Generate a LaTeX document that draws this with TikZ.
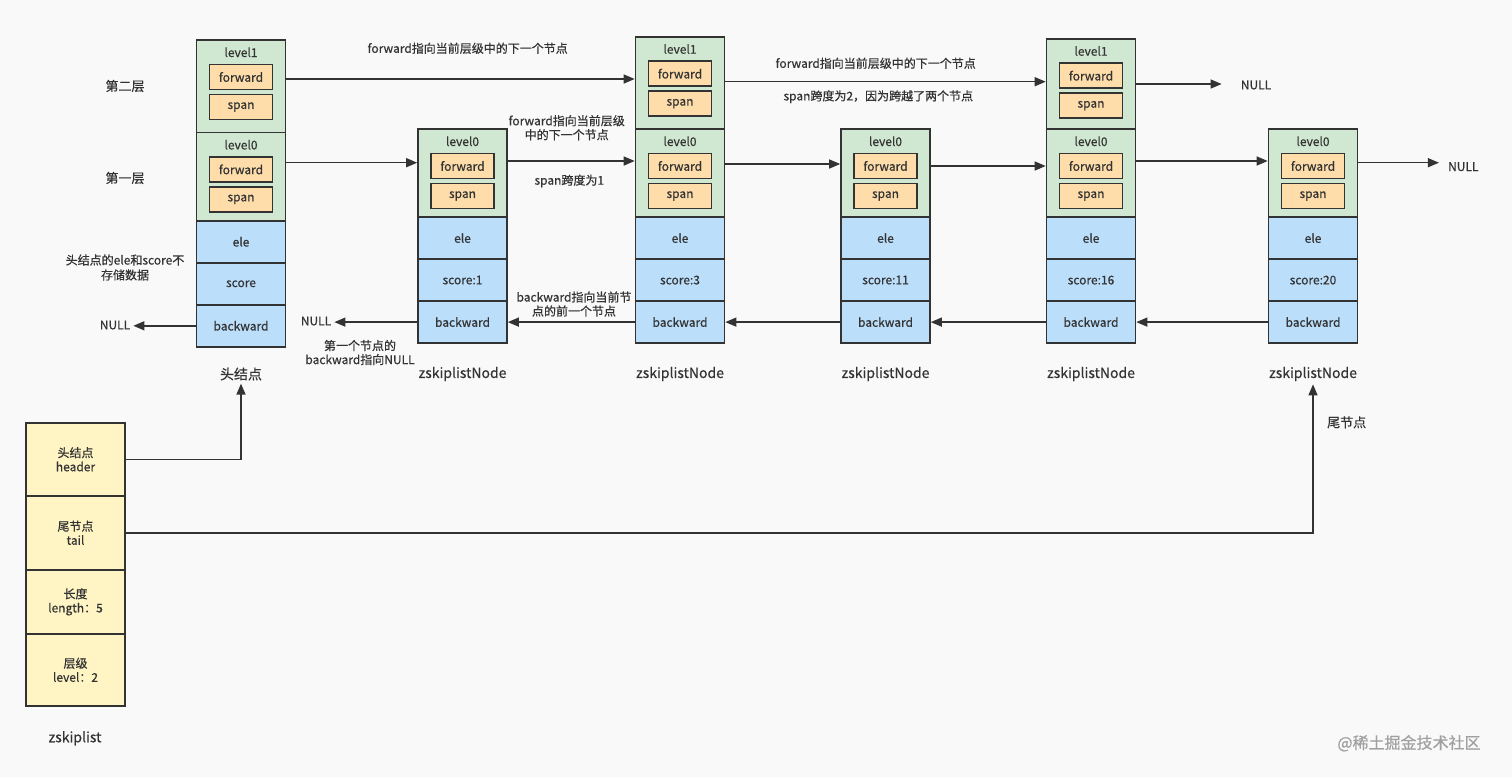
\documentclass[tikz,border=0pt]{standalone}
\usepackage{fontspec}
\setmainfont{Noto Sans CJK SC}[FakeBold=0.5]
\usetikzlibrary{arrows.meta,calc}
\definecolor{linec}{HTML}{333333}
\definecolor{bgc}{HTML}{F9F9F9}
\definecolor{greenc}{HTML}{D0E8D1}
\definecolor{orangec}{HTML}{FEDDAA}
\definecolor{bluec}{HTML}{BBDEFB}
\definecolor{yellowc}{HTML}{FFF5C4}
\definecolor{wmc}{HTML}{A0A0A0}
\newcommand\mklevel[5]{%
  \node[lvl, minimum height=#4pt] (#1) at (#2,#3) {};
  \node[txt] (#1t) at (#2,#3+13) {#5};
  \node[fld] (#1f) at (#2,#3+37.7) {forward};
  \node[fld] (#1s) at (#2,#3+67.7) {span};
}
\newcommand\mkbody[4]{%
  \node[bcell] (#1e) at (#2,#3) {ele};
  \node[bcell] (#1c) at (#2,#3+42) {#4};
  \node[bcell] (#1b) at (#2,#3+84) {backward};
}
\begin{document}
\begin{tikzpicture}[x=1pt,y=-1pt,
  txt/.style={font=\fontsize{12}{14}\selectfont, text=linec, inner sep=3pt},
  lbl/.style={font=\fontsize{14}{16}\selectfont, text=linec, inner sep=3pt},
  lvl/.style={draw=linec, line width=1.6pt, fill=greenc, minimum width=89pt, inner sep=0pt, anchor=north},
  fld/.style={draw=linec, line width=1.5pt, fill=orangec, minimum width=63pt, minimum height=25pt, inner sep=0pt, font=\fontsize{12}{14}\selectfont, text=linec},
  bcell/.style={draw=linec, line width=1.6pt, fill=bluec, minimum width=89pt, minimum height=42pt, inner sep=0pt, anchor=north, font=\fontsize{12}{14}\selectfont, text=linec},
  ycell/.style={draw=linec, line width=1.6pt, fill=yellowc, minimum width=99pt, inner sep=0pt, anchor=north, align=center, font=\fontsize{12}{14}\selectfont, text=linec},
  arr/.style={draw=linec, line width=1.4pt, -{Triangle[length=11pt,width=9pt]}}
]
\path[fill=bgc] (0,0) rectangle (1512,777);

% header node
\mklevel{hA}{241}{39.3}{92.4}{level1}
\mklevel{hB}{241}{131.7}{88.3}{level0}
\mkbody{h}{241}{220}{score}
\node[lbl] (hname) at (241,374) {头结点};

% node 1
\mklevel{aB}{462.5}{128.3}{88}{level0}
\mkbody{a}{462.5}{216.3}{score:1}
\node[lbl] (aname) at (462.5,374) {zskiplistNode};

% node 2
\mklevel{bA}{680}{36}{92.3}{level1}
\mklevel{bB}{680}{128.3}{88}{level0}
\mkbody{b}{680}{216.3}{score:3}
\node[lbl] (bname) at (680,374) {zskiplistNode};

% node 3
\mklevel{cB}{885.5}{128.3}{88}{level0}
\mkbody{c}{885.5}{216.3}{score:11}
\node[lbl] (cname) at (885.5,374) {zskiplistNode};

% node 4
\mklevel{dA}{1091}{38}{90.3}{level1}
\mklevel{dB}{1091}{128.3}{88}{level0}
\mkbody{d}{1091}{216.3}{score:16}
\node[lbl] (dname) at (1091,374) {zskiplistNode};

% node 5
\mklevel{eB}{1313}{128.3}{88}{level0}
\mkbody{e}{1313}{216.3}{score:20}
\node[lbl] (ename) at (1313,374) {zskiplistNode};

% NULL labels
\node[txt] (nullh) at (115,325) {NULL};
\node[txt] (null1) at (316,321) {NULL};
\node[txt] (nullA) at (1256,85) {NULL};
\node[txt] (nullB) at (1463.3,166.7) {NULL};

% forward arrows level1
\draw[arr] (hA.east |- 0,79) -- (bA.west |- 0,79);
\draw[arr] (bA.east |- 0,81.7) -- (dA.west |- 0,81.7);
\draw[arr, shorten >=16pt] (dA.east |- 0,84) -- (nullA.west |- 0,84);
% forward arrows level0
\draw[arr] (hB.east |- 0,162.7) -- (aB.west |- 0,162.7);
\draw[arr] (aB.east |- 0,161) -- (bB.west |- 0,161);
\draw[arr] (bB.east |- 0,164) -- (cB.west |- 0,164);
\draw[arr] (cB.east |- 0,166) -- (dB.west |- 0,166);
\draw[arr] (dB.east |- 0,161) -- (eB.west |- 0,161);
\draw[arr, shorten >=6pt] (eB.east |- 0,162.7) -- (nullB.west |- 0,162.7);
% backward arrows
\draw[arr] (hb.west) -- (nullh.east |- hb.west);
\draw[arr] (ab.west) -- (null1.east |- ab.west);
\draw[arr] (bb.west) -- (ab.east);
\draw[arr] (cb.west) -- (bb.east);
\draw[arr] (db.west) -- (cb.east);
\draw[arr] (eb.west) -- (db.east);

% annotations
\node[txt, font=\fontsize{13}{15}\selectfont] (l2) at (125,86) {第二层};
\node[txt, font=\fontsize{13}{15}\selectfont] (l1) at (125,178) {第一层};
\node[txt, align=center, font=\fontsize{12}{15}\selectfont] (hnote) at (125,267.5) {头结点的ele和score不\\存储数据};
\node[txt] (f1note) at (467.7,48.3) {forward指向当前层级中的下一个节点};
\node[txt, align=center] (f0note) at (566.7,127.7) {forward指向当前层级\\中的下一个节点};
\node[txt] (s1note) at (569.3,181) {span跨度为1};
\node[txt, align=center] (bnote) at (574,304) {backward指向当前节\\点的前一个节点};
\node[txt, align=center] (nnote) at (360,352.5) {第一个节点的\\backward指向NULL};
\node[txt] (f2note) at (875.7,63.3) {forward指向当前层级中的下一个节点};
\node[txt] (s2note) at (878.3,96.7) {span跨度为2，因为跨越了两个节点};
\node[lbl, font=\fontsize{13}{15}\selectfont] (tailnote) at (1346.7,422.3) {尾节点};

% zskiplist
\node[ycell, minimum height=73pt] (zh) at (75.5,422) {头结点\\header};
\node[ycell, minimum height=74pt] (zt) at (75.5,495) {尾节点\\tail};
\node[ycell, minimum height=64pt] (zl) at (75.5,569) {长度\\length：5};
\node[ycell, minimum height=72pt] (zv) at (75.5,633) {层级\\level：2};
\node[lbl] (zname) at (75,738.3) {zskiplist};

\draw[arr] (zh.east) -| (hname.south);
\draw[arr] (zt.east) -| (ename.south);

\node[text=wmc, font=\fontsize{16}{18}\selectfont] (wm) at (1409,743.3) {@稀土掘金技术社区};
\end{tikzpicture}
\end{document}
